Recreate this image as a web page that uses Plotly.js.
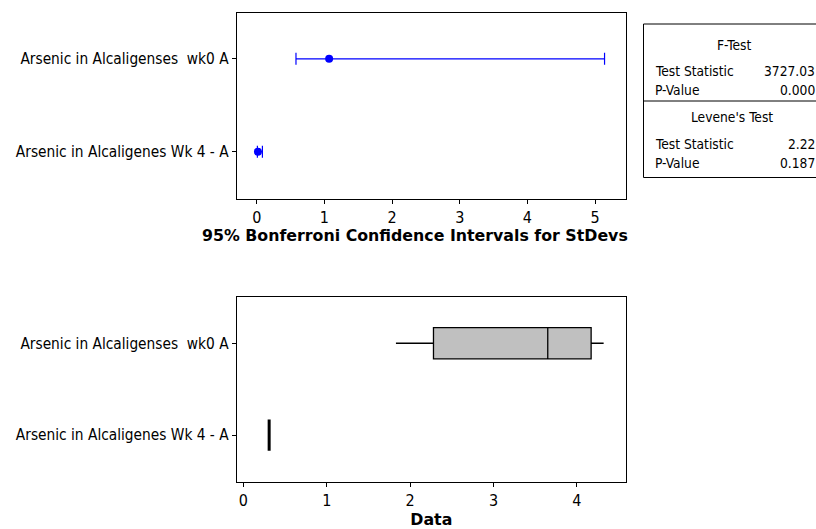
<!DOCTYPE html>
<html>
<head>
<meta charset="utf-8">
<script src="https://cdn.plot.ly/plotly-3.0.1.min.js"></script>
<style>
  html, body { margin: 0; padding: 0; background: #fff; }
  #chart { width: 816px; height: 529px; }
</style>
</head>
<body>
<div id="chart"></div>
<script>
// Sample labels (top to bottom)
const groups = ['Arsenic in Alcaligenses\u00a0\u00a0wk0 A', 'Arsenic in Alcaligenes Wk 4 - A'];
const groupPos = [1, 0];

// 95% Bonferroni confidence intervals for the standard deviations
const sdEstimate = [1.07, 0.0175];
const sdLower = [0.58, 0.0095];
const sdUpper = [5.14, 0.084];

// Box plot summaries of the raw data
const boxMin = [1.83, 0.31];
const boxQ1 = [2.28, 0.31];
const boxMedian = [3.65, 0.31];
const boxQ3 = [4.17, 0.31];
const boxMax = [4.32, 0.31];

// Test results table
const testTitles = ['F-Test', "Levene's Test"];
const statLabels = ['Test Statistic', 'P-Value'];
const fTestValues = ['3727.03', '0.000'];
const leveneValues = ['2.22', '0.187'];

const FONT = "'DejaVu Sans Condensed', 'DejaVu Sans', sans-serif";
const BOLD = "'DejaVu Sans', sans-serif";

const ciTrace = {
  type: 'scatter', mode: 'markers',
  x: sdEstimate, y: groupPos,
  xaxis: 'x', yaxis: 'y',
  marker: { color: '#0000ff', size: 8 },
  error_x: {
    type: 'data', symmetric: false,
    array: sdUpper.map((u, i) => u - sdEstimate[i]),
    arrayminus: sdLower.map((l, i) => sdEstimate[i] - l),
    color: '#0000ff', thickness: 1.2, width: 6
  },
  hoverinfo: 'x', showlegend: false
};

// One box trace per group so the single-value group can carry a heavier outline
const boxTraces = [0, 1].map(i => ({
  type: 'box', orientation: 'h',
  y: [groupPos[i]],
  q1: [boxQ1[i]], median: [boxMedian[i]], q3: [boxQ3[i]],
  lowerfence: [boxMin[i]], upperfence: [boxMax[i]],
  xaxis: 'x2', yaxis: 'y2',
  width: 0.34,
  fillcolor: '#c0c0c0',
  line: { color: '#000000', width: i === 0 ? 1.3 : 3 },
  whiskerwidth: 0,
  boxpoints: false,
  showlegend: false
}));

const axisCommon = {
  showline: true, mirror: true, linecolor: '#000', linewidth: 1,
  showgrid: false, zeroline: false,
  ticks: 'outside', ticklen: 4, tickcolor: '#000', tickwidth: 1
};

// Table geometry in paper coordinates
const W = 816, H = 529;
const px = v => v / W;
const py = v => (H - v) / H;

const annotations = [];
const addText = (text, x, y, xanchor) => annotations.push({
  text, x: px(x), y: py(y), xref: 'paper', yref: 'paper',
  xanchor, yanchor: 'middle', showarrow: false,
  font: { family: FONT, size: 13.7, color: '#000' }
});
addText(testTitles[0], 734, 45, 'center');
addText(statLabels[0], 653, 70.5, 'left');
addText(fTestValues[0], 817, 70.5, 'right');
addText(statLabels[1], 653, 90.5, 'left');
addText(fTestValues[1], 817, 90.5, 'right');
addText(testTitles[1], 732, 116.5, 'center');
addText(statLabels[0], 653, 143.5, 'left');
addText(leveneValues[0], 817, 143.5, 'right');
addText(statLabels[1], 653, 163.5, 'left');
addText(leveneValues[1], 817, 163.5, 'right');

// Title of the upper panel's x axis, set slightly left of the panel centre
annotations.push({
  text: '<b>95% Bonferroni Confidence Intervals for StDevs</b>',
  x: px(414.5), y: py(235), xref: 'paper', yref: 'paper',
  xanchor: 'center', yanchor: 'middle', showarrow: false,
  font: { family: BOLD, size: 15.8, color: '#000' }
});

const shapes = [
  { type: 'rect', xref: 'paper', yref: 'paper', x0: px(643.5), x1: px(830), y0: py(177.5), y1: py(24),
    line: { color: '#000', width: 1 }, fillcolor: 'rgba(0,0,0,0)' },
  { type: 'line', xref: 'paper', yref: 'paper', x0: px(643.5), x1: px(830), y0: py(101), y1: py(101),
    line: { color: '#000', width: 1 } }
];

const layout = {
  width: W, height: H,
  margin: { l: 0, r: 0, t: 0, b: 0 },
  paper_bgcolor: '#fff', plot_bgcolor: '#fff',
  font: { family: FONT, size: 13, color: '#000' },
  showlegend: false,
  boxmode: 'overlay',
  xaxis: Object.assign({}, axisCommon, {
    domain: [px(236.7), px(626)], anchor: 'y',
    range: [-0.296, 5.457], tickvals: [0, 1, 2, 3, 4, 5],
    tickfont: { family: FONT, size: 16 }
  }),
  yaxis: Object.assign({}, axisCommon, {
    domain: [py(199), py(13.3)], anchor: 'x',
    range: [-0.51, 1.49], tickvals: groupPos, ticktext: groups,
    tickfont: { family: FONT, size: 15.3 }
  }),
  xaxis2: Object.assign({}, axisCommon, {
    domain: [px(236.7), px(626)], anchor: 'y2',
    range: [-0.079, 4.588], tickvals: [0, 1, 2, 3, 4],
    tickfont: { family: FONT, size: 16 },
    title: { text: '<b>Data</b>', font: { family: BOLD, size: 15.8 }, standoff: 4 }
  }),
  yaxis2: Object.assign({}, axisCommon, {
    domain: [py(482), py(297.3)], anchor: 'x2',
    range: [-0.51, 1.50], tickvals: groupPos, ticktext: groups,
    tickfont: { family: FONT, size: 15.3 }
  }),
  annotations, shapes
};

Plotly.newPlot('chart', [ciTrace].concat(boxTraces), layout, { displayModeBar: false, staticPlot: true });
</script>
</body>
</html>
